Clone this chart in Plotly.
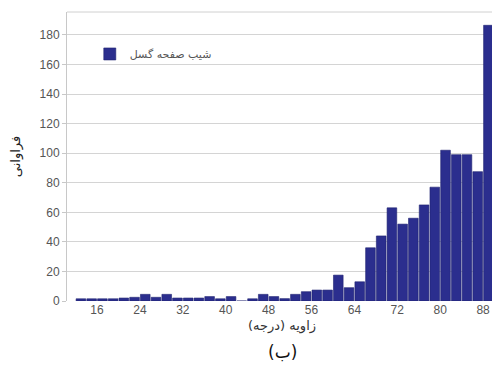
import plotly.graph_objects as go

angles = [13, 15, 17, 19, 21, 23, 25, 27, 29, 31, 33, 35, 37, 39, 41, 43, 45, 47, 49,
          51, 53, 55, 57, 59, 61, 63, 65, 67, 69, 71, 73, 75, 77, 79, 81, 83, 85, 87, 89]
freq = [1.5, 1.5, 1.5, 1.5, 2, 2.5, 4.5, 2.5, 4.5, 2, 2, 2, 3, 1.5, 3, 0, 1.5, 4.5, 3,
        1.6, 4.5, 6.3, 7.4, 7.4, 17.5, 9, 13, 36, 44, 63, 52, 56, 65, 77, 102, 99, 99, 87.5, 186.5]
x_ticks = [16, 24, 32, 40, 48, 56, 64, 72, 80, 88]
y_ticks = [0, 20, 40, 60, 80, 100, 120, 140, 160, 180]

series_name = "شیب صفحه گسل"
x_title = "\u200fزاویه (درجه)\u200f"
y_title = "فراوانی"
caption = "\u200f(ب)\u200f"

fig = go.Figure()
fig.add_trace(go.Bar(
    x=angles, y=freq, name=series_name,
    marker=dict(color="#2B2E8E", line=dict(color="#1E2170", width=0.6)),
    width=1.8, showlegend=True,
))

# page body has an 8px margin, so the figure is 8px smaller and margins shifted
fig.update_layout(
    width=492, height=358,
    margin=dict(l=59, r=3, t=4, b=65),
    paper_bgcolor="white", plot_bgcolor="white",
    font=dict(family="Liberation Sans, Arial, sans-serif", size=12, color="#555"),
    showlegend=True,
    legend=dict(x=0.053, y=0.905, xanchor="left", yanchor="top",
                bgcolor="rgba(0,0,0,0)",
                font=dict(family="DejaVu Sans", size=11, color="#555")),
    xaxis=dict(range=[10.4, 90.6], tickvals=x_ticks, showgrid=False, zeroline=False,
               showline=False, ticks="", tickfont=dict(size=12, color="#555"),
               title=dict(text=x_title, font=dict(family="DejaVu Sans", size=13, color="#333"),
                          standoff=4)),
    yaxis=dict(range=[0, 195.5], tickvals=y_ticks, showgrid=True, gridcolor="#d4d4d4",
               gridwidth=1, zeroline=False, showline=True, linecolor="#c8c8c8",
               ticks="outside", ticklen=4, tickcolor="#c8c8c8",
               tickfont=dict(size=12, color="#555"),
               title=dict(text=y_title, font=dict(family="DejaVu Sans", size=13, color="#222"),
                          standoff=16)),
    shapes=[dict(type="line", xref="paper", yref="paper", x0=0, x1=1, y0=1, y1=1,
                 line=dict(color="#d0d0d0", width=1))],
    annotations=[dict(text=caption, xref="paper", yref="paper", x=0.5, y=-0.175,
                      xanchor="center", yanchor="middle", showarrow=False,
                      font=dict(family="DejaVu Sans", size=17, color="#111"))],
)

fig.write_html("out.html")
